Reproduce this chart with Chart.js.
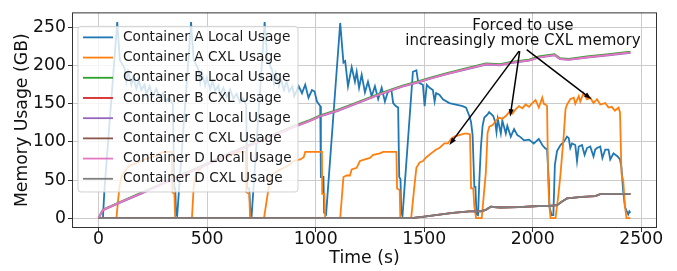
<!DOCTYPE html>
<html>
<head>
<meta charset="utf-8">
<script src="https://cdn.jsdelivr.net/npm/chart.js@4/dist/chart.umd.min.js"></script>
<style>
	html, body { margin: 0; padding: 0; background: #fff; }
	canvas { display: block; }
</style>
</head>
<body>
<canvas id="usage" width="677" height="271"></canvas>
<script>
// [time (s), GB] pairs
const aLocal = [
	[0, 0], [20, 0], [27, 38], [86, 257], [98, 207], [105, 204], [113, 200], [120, 196], [128, 179], [136, 192],
	[151, 175], [159, 185], [174, 170], [185, 181], [197, 168], [212, 175], [220, 162], [235, 173], [250, 160],
	[266, 170], [281, 158], [296, 164], [311, 153], [326, 158], [342, 149], [349, 39], [353, 39], [357, 5],
	[362, 3], [426, 257], [438, 207], [445, 204], [453, 199], [460, 195], [468, 178], [476, 191], [491, 174],
	[499, 184], [514, 169], [525, 180], [537, 167], [552, 174], [560, 161], [575, 171], [590, 159], [606, 169],
	[621, 157], [636, 163], [651, 152], [666, 157], [680, 148], [685, 39], [694, 39], [700, 4],
	[705, 3], [765, 257], [778, 207], [786, 203], [793, 198], [800, 194], [808, 177], [816, 190], [831, 173],
	[839, 183], [854, 168], [866, 179], [878, 166], [893, 173], [901, 160], [922, 173], [937, 164], [952, 175],
	[967, 158], [983, 168], [995, 166], [1006, 153], [1021, 147], [1024, 54], [1036, 54], [1039, 7], [1048, 5],
	[1113, 256], [1128, 204], [1136, 206], [1149, 173], [1166, 198], [1181, 179], [1189, 192], [1200, 171],
	[1212, 188], [1227, 165], [1241, 179], [1258, 160], [1273, 173], [1288, 156], [1304, 171], [1319, 153],
	[1332, 165], [1349, 168], [1357, 151], [1369, 147], [1380, 145], [1385, 54], [1391, 51], [1394, 7], [1400, 3],
	[1448, 192], [1464, 194], [1472, 179], [1479, 177], [1494, 175], [1502, 147], [1512, 175], [1525, 171],
	[1540, 168], [1548, 153], [1555, 164], [1570, 162], [1586, 156], [1616, 151], [1647, 149], [1677, 147],
	[1693, 145], [1708, 134], [1716, 126], [1723, 109], [1731, 41], [1736, 41], [1741, 5], [1748, 4],
	[1754, 49], [1761, 92], [1769, 121], [1777, 132], [1792, 136], [1799, 139], [1807, 137], [1818, 134], [1827, 126],
	[1833, 113], [1839, 130], [1853, 111], [1860, 128], [1876, 111], [1883, 121], [1899, 107], [1914, 117],
	[1929, 109], [1945, 106], [1960, 102], [1983, 103], [2005, 98], [2013, 100], [2028, 104], [2044, 96],
	[2056, 92], [2066, 90], [2074, 49], [2077, 15], [2087, 4], [2095, 4],
	[2102, 70], [2112, 88], [2128, 96], [2143, 100], [2158, 107], [2166, 105], [2173, 92], [2181, 98],
	[2196, 96], [2204, 75], [2212, 94], [2227, 96], [2239, 83], [2250, 92], [2265, 94], [2280, 81], [2288, 90],
	[2296, 92], [2311, 94], [2321, 79], [2334, 90], [2349, 90], [2357, 77], [2372, 85], [2391, 81], [2402, 77],
	[2409, 66], [2417, 34], [2425, 15], [2432, 10], [2440, 5], [2445, 9], [2450, 7],
];

const aCxl = [
	[0, 0], [82, 0], [96, 41], [105, 54], [120, 62], [143, 69], [182, 73], [212, 77], [258, 81], [290, 86],
	[304, 87], [337, 87], [340, 34], [349, 32], [353, 0],
	[430, 0], [438, 41], [445, 54], [460, 62], [483, 69], [520, 73], [550, 77], [595, 81], [630, 86], [645, 87],
	[678, 87], [680, 34], [694, 32], [698, 0],
	[762, 0], [784, 41], [792, 54], [815, 60], [838, 64], [868, 68], [899, 75], [929, 77], [945, 80], [952, 87],
	[1029, 87], [1030, 32], [1040, 32], [1044, 0],
	[1113, 0], [1128, 54], [1143, 56], [1158, 56], [1166, 64], [1189, 66], [1204, 75], [1227, 77], [1250, 79],
	[1265, 83], [1296, 85], [1311, 87], [1372, 87], [1375, 39], [1387, 37], [1390, 0],
	[1440, 0], [1456, 45], [1464, 66], [1479, 73], [1494, 75], [1510, 80], [1532, 85], [1555, 90], [1570, 92],
	[1593, 98], [1609, 98], [1624, 104], [1639, 107], [1662, 109], [1685, 111], [1700, 111], [1711, 110],
	[1716, 39], [1726, 39], [1731, 15], [1739, 0],
	[1765, 0], [1784, 60], [1792, 112], [1800, 120], [1815, 122], [1830, 128], [1845, 132], [1860, 130],
	[1876, 134], [1891, 139], [1906, 137], [1922, 143], [1937, 147], [1952, 144], [1967, 149], [1983, 146],
	[1998, 151], [2013, 155], [2028, 145], [2044, 158], [2051, 150], [2059, 149], [2066, 147], [2071, 49],
	[2077, 15], [2082, 0],
	[2105, 0], [2118, 30], [2128, 58], [2143, 109], [2151, 143], [2158, 149], [2173, 156], [2189, 158],
	[2196, 150], [2212, 160], [2219, 153], [2234, 164], [2250, 156], [2265, 158], [2280, 151], [2296, 156],
	[2311, 149], [2334, 151], [2349, 145], [2364, 146], [2379, 141], [2395, 145], [2402, 139], [2409, 58],
	[2417, 49], [2425, 15], [2432, 0], [2450, 0],
];

const bLocal = [
	[0, 0], [14, 8.5], [21, 11.5], [100, 21.5], [200, 34], [300, 46.5], [400, 59], [517, 74], [600, 85], [700, 97],
	[800, 109], [900, 121], [975, 129], [1021, 135], [1100, 142], [1200, 153], [1300, 164], [1400, 174],
	[1479, 180], [1525, 184], [1600, 190], [1700, 197], [1785, 203], [1850, 202], [1900, 205], [1983, 208],
	[2028, 212], [2100, 215], [2125, 210], [2166, 209], [2250, 212], [2350, 215], [2440, 218], [2450, 218],
];

const bCxl = [
	[0, 0], [1440, 0], [1500, 2], [1570, 4.7], [1632, 7], [1708, 9], [1760, 9], [1784, 11], [1807, 15],
	[1850, 14], [1937, 14.5], [2028, 16], [2074, 16], [2112, 17], [2135, 22], [2158, 26], [2227, 28],
	[2288, 29], [2311, 31.5], [2364, 32], [2450, 32],
];

const cLocal = [
	[0, 0], [14, 7.5], [21, 10.5], [100, 20.5], [200, 32.5], [300, 45.5], [400, 57.5], [517, 72.5], [600, 83.5],
	[700, 95.5], [800, 107.5], [900, 119.5], [975, 127.5], [1021, 133.5], [1100, 140.5], [1200, 151.5],
	[1300, 162.5], [1400, 172.5], [1479, 178.5], [1525, 182.5], [1600, 188.5], [1700, 195.5], [1785, 201.5],
	[1850, 200.5], [1900, 203.5], [1983, 206.5], [2028, 210.5], [2100, 213.5], [2125, 208.5], [2166, 207.5],
	[2250, 210.5], [2350, 213.5], [2440, 216.5], [2450, 216.5],
];

const cCxl = [
	[0, 0], [1440, 0], [1500, 2], [1570, 4.7], [1632, 7], [1708, 9], [1760, 9], [1784, 11], [1807, 15],
	[1850, 14], [1937, 14.5], [2028, 16], [2074, 16], [2112, 17], [2135, 22], [2158, 26], [2227, 28],
	[2288, 29], [2311, 31.5], [2364, 32], [2450, 32],
];

const dLocal = [
	[0, 0], [14, 8], [21, 11], [100, 21], [200, 33], [300, 46], [400, 58], [517, 73], [600, 84], [700, 96],
	[800, 108], [900, 120], [975, 128], [1021, 134], [1100, 141], [1200, 152], [1300, 163], [1400, 173],
	[1479, 179], [1525, 183], [1600, 189], [1700, 196], [1785, 202], [1850, 201], [1900, 204], [1983, 207],
	[2028, 211], [2100, 214], [2125, 209], [2166, 208], [2250, 211], [2350, 214], [2440, 217], [2450, 217],
];

const dCxl = [
	[0, 0], [1440, 0], [1500, 2], [1570, 4.7], [1632, 7], [1708, 9], [1760, 9], [1784, 11], [1807, 15],
	[1850, 14], [1937, 14.5], [2028, 16], [2074, 16], [2112, 17], [2135, 22], [2158, 26], [2227, 28],
	[2288, 29], [2311, 31.5], [2364, 32], [2450, 32],
];

const seriesLabels = [
	'Container A Local Usage', 'Container A CXL Usage',
	'Container B Local Usage', 'Container B CXL Usage',
	'Container C Local Usage', 'Container C CXL Usage',
	'Container D Local Usage', 'Container D CXL Usage',
];
const seriesColors = ['#1f77b4', '#ff7f0e', '#2ca02c', '#d62728', '#9467bd', '#8c564b', '#e377c2', '#7f7f7f'];
const seriesData = [aLocal, aCxl, bLocal, bCxl, cLocal, cCxl, dLocal, dCxl];

const xTicks = [0, 500, 1000, 1500, 2000, 2500];
const yTicks = [0, 50, 100, 150, 200, 250];

const noteLines = ['Forced to use', 'increasingly more CXL memory'];
const noteAt = { x: 1955, y: [252.5, 232] };
// [from x, from y, to x, to y]
const noteArrows = [
	[1937, 219, 1616, 96],
	[1940, 219, 1896, 133],
	[1972, 221, 2271, 156],
];

const FONT = '"DejaVu Sans", sans-serif';

const legendBox = {
	id: 'legendBox',
	afterDatasetsDraw(chart) {
		const { ctx, chartArea } = chart;
		const left = chartArea.left + 6;
		const top = chartArea.top + 14;
		const width = 220;
		const rowGap = 20.2;
		const height = rowGap * seriesLabels.length + 4;

		ctx.save();
		ctx.beginPath();
		ctx.roundRect(left, top, width, height, 3);
		ctx.fillStyle = 'rgba(255, 255, 255, 0.8)';
		ctx.fill();
		ctx.strokeStyle = 'rgba(204, 204, 204, 0.9)';
		ctx.lineWidth = 1;
		ctx.stroke();

		ctx.font = `13.7px ${FONT}`;
		ctx.textBaseline = 'middle';
		ctx.textAlign = 'left';
		seriesLabels.forEach((label, i) => {
			const rowY = top + 11 + i * rowGap;
			ctx.beginPath();
			ctx.strokeStyle = seriesColors[i];
			ctx.lineWidth = 1.8;
			ctx.moveTo(left + 5, rowY);
			ctx.lineTo(left + 35, rowY);
			ctx.stroke();
			ctx.fillStyle = '#1a1a1a';
			ctx.fillText(label, left + 45, rowY);
		});
		ctx.restore();
	},
};

const notes = {
	id: 'notes',
	afterDraw(chart) {
		const { ctx, chartArea, scales: { x, y } } = chart;
		ctx.save();

		ctx.strokeStyle = '#333';
		ctx.lineWidth = 1;
		ctx.strokeRect(chartArea.left + 0.5, chartArea.top + 0.5, chartArea.width - 1, chartArea.height - 1);

		ctx.fillStyle = '#111';
		ctx.font = `15px ${FONT}`;
		ctx.textAlign = 'center';
		ctx.textBaseline = 'middle';
		noteLines.forEach((line, i) => {
			ctx.fillText(line, x.getPixelForValue(noteAt.x), y.getPixelForValue(noteAt.y[i]));
		});

		noteArrows.forEach(([fx, fy, tx, ty]) => {
			const x0 = x.getPixelForValue(fx);
			const y0 = y.getPixelForValue(fy);
			const x1 = x.getPixelForValue(tx);
			const y1 = y.getPixelForValue(ty);
			const angle = Math.atan2(y1 - y0, x1 - x0);
			const head = 8;
			const spread = 0.32;
			ctx.beginPath();
			ctx.strokeStyle = '#000';
			ctx.lineWidth = 1.5;
			ctx.moveTo(x0, y0);
			ctx.lineTo(x1 - Math.cos(angle) * head * 0.8, y1 - Math.sin(angle) * head * 0.8);
			ctx.stroke();
			ctx.beginPath();
			ctx.fillStyle = '#000';
			ctx.moveTo(x1, y1);
			ctx.lineTo(x1 - head * Math.cos(angle - spread), y1 - head * Math.sin(angle - spread));
			ctx.lineTo(x1 - head * Math.cos(angle + spread), y1 - head * Math.sin(angle + spread));
			ctx.closePath();
			ctx.fill();
		});
		ctx.restore();
	},
};

const canvas = document.getElementById('usage');

new Chart(canvas.getContext('2d'), {
	type: 'line',
	data: {
		datasets: seriesData.map((points, i) => ({
			label: seriesLabels[i],
			data: points.map(([t, v]) => ({ x: t, y: v })),
			borderColor: seriesColors[i],
			backgroundColor: seriesColors[i],
			borderWidth: 1.8,
			pointRadius: 0,
			tension: 0,
			fill: false,
			order: seriesData.length - i,
		})),
	},
	options: {
		responsive: false,
		animation: false,
		layout: { padding: { top: 5, right: 20, left: 0, bottom: 0 } },
		plugins: {
			legend: { display: false },
			tooltip: { enabled: false },
		},
		scales: {
			x: {
				type: 'linear',
				min: -122.5,
				max: 2572.5,
				afterBuildTicks: (scale) => { scale.ticks = xTicks.map((value) => ({ value })); },
				afterFit: (scale) => { scale.height = 43; },
				grid: { color: '#cbcbcb', lineWidth: 1, tickColor: '#333', tickLength: 4 },
				border: { display: false },
				ticks: {
					color: '#111',
					padding: -1,
					font: { family: FONT, size: 17.3, lineHeight: 1 },
					maxRotation: 0,
					callback: (value) => String(value),
				},
				title: {
					display: true,
					text: 'Time (s)',
					color: '#111',
					font: { family: FONT, size: 17.3, lineHeight: 1.2 },
					padding: { top: 0, bottom: 2.6 },
				},
			},
			y: {
				type: 'linear',
				min: -12.85,
				max: 269.85,
				afterBuildTicks: (scale) => { scale.ticks = yTicks.map((value) => ({ value })); },
				afterFit: (scale) => { scale.width = 72; },
				grid: { color: '#cbcbcb', lineWidth: 1, tickColor: '#333', tickLength: 4 },
				border: { display: false },
				ticks: {
					color: '#111',
					padding: 2,
					font: { family: FONT, size: 17.3 },
					callback: (value) => String(value),
				},
				title: {
					display: true,
					text: 'Memory Usage (GB)',
					color: '#111',
					font: { family: FONT, size: 17.3, lineHeight: 1.2 },
					padding: { top: 12.5, bottom: 0 },
				},
			},
		},
	},
	plugins: [legendBox, notes],
});
</script>
</body>
</html>
